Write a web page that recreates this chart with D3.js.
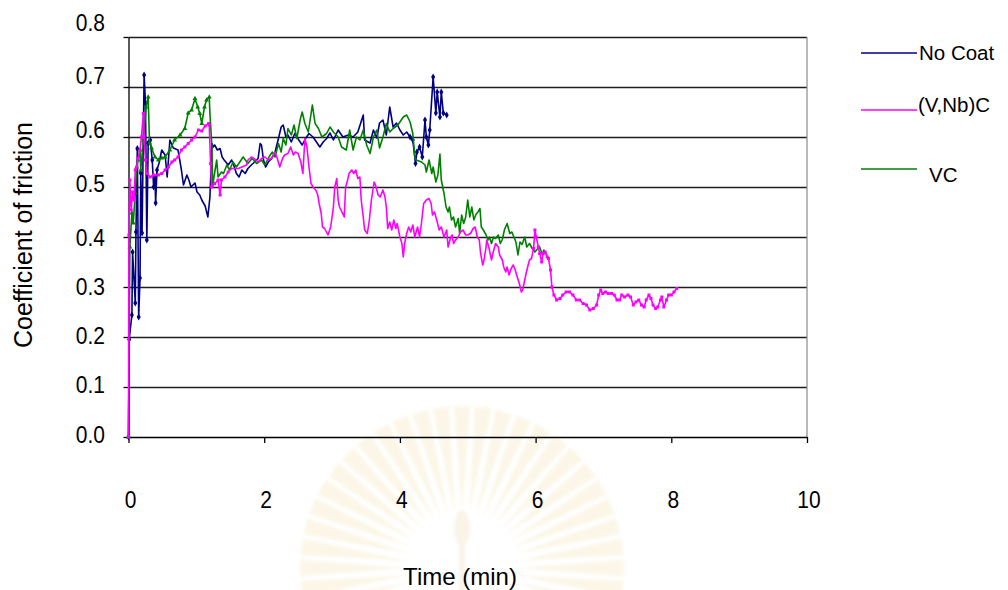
<!DOCTYPE html>
<html>
<head>
<meta charset="utf-8">
<script src="https://cdn.jsdelivr.net/npm/d3@7"></script>
<style>
  body { margin: 0; background: #fff; }
  svg { display: block; }
  text { font-family: "Liberation Sans", Arial, sans-serif; fill: #000; }
</style>
</head>
<body>
<svg id="chart" width="1008" height="590"></svg>
<script>
// ---- Friction test data: time (min) and coefficient of friction ----
const noCoatTime = [0, 0.01, 0.05, 0.06, 0.10, 0.11, 0.13, 0.15, 0.17, 0.18, 0.20, 0.23, 0.25, 0.27, 0.29, 0.32, 0.35, 0.37, 0.39, 0.40, 0.42, 0.45, 0.49, 0.54, 0.57, 0.61, 0.66, 0.73, 0.78, 0.81, 0.86, 0.89, 0.92, 0.98, 1.01, 1.05, 1.08, 1.13, 1.17, 1.20, 1.23, 1.25, 1.27, 1.31, 1.35, 1.38, 1.41, 1.47, 1.52, 1.56, 1.59, 1.63, 1.67, 1.72, 1.76, 1.81, 1.86, 1.91, 1.94, 1.96, 1.99, 2.02, 2.06, 2.11, 2.16, 2.21, 2.25, 2.28, 2.32, 2.35, 2.40, 2.45, 2.51, 2.56, 2.61, 2.66, 2.72, 2.77, 2.82, 2.87, 2.92, 2.97, 3.02, 3.09, 3.16, 3.24, 3.31, 3.38, 3.46, 3.48, 3.56, 3.61, 3.66, 3.70, 3.75, 3.80, 3.85, 3.90, 3.95, 4.00, 4.05, 4.10, 4.15, 4.19, 4.23, 4.25, 4.29, 4.33, 4.37, 4.39, 4.42, 4.44, 4.49, 4.53, 4.55, 4.59, 4.61, 4.64, 4.69];
const noCoatCof = [0, 0.195, 0.244, 0.37, 0.268, 0.41, 0.577, 0.24, 0.318, 0.528, 0.408, 0.724, 0.668, 0.394, 0.588, 0.594, 0.554, 0.50, 0.518, 0.468, 0.534, 0.548, 0.574, 0.564, 0.52, 0.594, 0.578, 0.574, 0.534, 0.504, 0.524, 0.514, 0.50, 0.508, 0.49, 0.484, 0.474, 0.462, 0.44, 0.48, 0.587, 0.58, 0.584, 0.574, 0.577, 0.56, 0.554, 0.544, 0.554, 0.54, 0.527, 0.52, 0.534, 0.527, 0.537, 0.544, 0.55, 0.557, 0.587, 0.584, 0.554, 0.54, 0.55, 0.557, 0.57, 0.597, 0.62, 0.624, 0.60, 0.604, 0.59, 0.607, 0.594, 0.584, 0.597, 0.607, 0.60, 0.59, 0.58, 0.59, 0.597, 0.608, 0.594, 0.614, 0.60, 0.604, 0.60, 0.61, 0.644, 0.594, 0.588, 0.614, 0.598, 0.628, 0.634, 0.604, 0.66, 0.62, 0.628, 0.614, 0.604, 0.61, 0.60, 0.594, 0.547, 0.57, 0.58, 0.56, 0.634, 0.60, 0.584, 0.614, 0.72, 0.648, 0.69, 0.64, 0.69, 0.648, 0.644];

const vnbcTime = [0, 0.005, 0.02, 0.04, 0.06, 0.08, 0.10, 0.12, 0.14, 0.17, 0.19, 0.22, 0.23, 0.25, 0.27, 0.32, 0.37, 0.44, 0.49, 0.54, 0.59, 0.64, 0.68, 0.73, 0.78, 0.83, 0.88, 0.93, 0.98, 1.03, 1.08, 1.13, 1.18, 1.19, 1.21, 1.225, 1.27, 1.32, 1.35, 1.37, 1.42, 1.47, 1.52, 1.57, 1.62, 1.67, 1.74, 1.76, 1.81, 1.86, 1.91, 1.96, 2.01, 2.06, 2.11, 2.16, 2.20, 2.23, 2.27, 2.30, 2.35, 2.39, 2.43, 2.46, 2.50, 2.54, 2.57, 2.60, 2.63, 2.66, 2.69, 2.72, 2.76, 2.79, 2.81, 2.84, 2.86, 2.89, 2.94, 2.98, 3.02, 3.04, 3.07, 3.09, 3.11, 3.18, 3.20, 3.23, 3.25, 3.29, 3.32, 3.35, 3.38, 3.41, 3.43, 3.46, 3.48, 3.52, 3.55, 3.58, 3.62, 3.64, 3.68, 3.71, 3.75, 3.78, 3.80, 3.82, 3.85, 3.88, 3.91, 3.94, 3.96, 4.00, 4.03, 4.05, 4.07, 4.10, 4.13, 4.16, 4.19, 4.22, 4.26, 4.29, 4.32, 4.35, 4.39, 4.43, 4.46, 4.48, 4.51, 4.55, 4.58, 4.61, 4.65, 4.69, 4.71, 4.75, 4.77, 4.79, 4.82, 4.86, 4.89, 4.93, 4.97, 5.00, 5.04, 5.08, 5.11, 5.14, 5.17, 5.19, 5.22, 5.24, 5.27, 5.28, 5.31, 5.35, 5.37, 5.41, 5.45, 5.47, 5.51, 5.53, 5.56, 5.58, 5.61, 5.64, 5.67, 5.70, 5.73, 5.76, 5.79, 5.81, 5.84, 5.86, 5.89, 5.91, 5.94, 5.97, 5.99, 6.01, 6.04, 6.06, 6.09, 6.11, 6.14, 6.17, 6.19, 6.22, 6.24, 6.27, 6.31, 6.36, 6.40, 6.45, 6.50, 6.55, 6.60, 6.65, 6.70, 6.75, 6.80, 6.85, 6.90, 6.93, 6.96, 6.99, 7.03, 7.07, 7.12, 7.16, 7.20, 7.24, 7.27, 7.31, 7.36, 7.40, 7.44, 7.48, 7.52, 7.56, 7.60, 7.63, 7.67, 7.70, 7.73, 7.77, 7.80, 7.84, 7.86, 7.89, 7.93, 7.96, 8.00, 8.04, 8.08];
const vnbcCof = [0, 0.404, 0.514, 0.454, 0.49, 0.474, 0.534, 0.54, 0.557, 0.574, 0.60, 0.647, 0.60, 0.554, 0.527, 0.52, 0.524, 0.524, 0.527, 0.534, 0.54, 0.55, 0.554, 0.56, 0.574, 0.58, 0.587, 0.594, 0.60, 0.614, 0.612, 0.622, 0.627, 0.624, 0.547, 0.50, 0.507, 0.514, 0.484, 0.514, 0.52, 0.53, 0.537, 0.537, 0.537, 0.54, 0.544, 0.554, 0.56, 0.556, 0.55, 0.557, 0.56, 0.554, 0.558, 0.57, 0.554, 0.54, 0.557, 0.564, 0.567, 0.58, 0.564, 0.57, 0.567, 0.55, 0.527, 0.597, 0.58, 0.54, 0.507, 0.50, 0.494, 0.484, 0.467, 0.447, 0.42, 0.417, 0.404, 0.42, 0.46, 0.50, 0.517, 0.474, 0.46, 0.44, 0.50, 0.514, 0.527, 0.534, 0.527, 0.534, 0.517, 0.52, 0.474, 0.44, 0.414, 0.407, 0.434, 0.474, 0.51, 0.504, 0.484, 0.48, 0.494, 0.48, 0.46, 0.417, 0.43, 0.414, 0.434, 0.417, 0.427, 0.40, 0.387, 0.36, 0.387, 0.407, 0.42, 0.41, 0.424, 0.40, 0.42, 0.40, 0.43, 0.467, 0.474, 0.477, 0.467, 0.444, 0.45, 0.43, 0.414, 0.42, 0.40, 0.414, 0.38, 0.40, 0.404, 0.387, 0.394, 0.40, 0.41, 0.414, 0.404, 0.404, 0.407, 0.417, 0.42, 0.40, 0.394, 0.367, 0.344, 0.354, 0.38, 0.394, 0.38, 0.354, 0.367, 0.387, 0.38, 0.364, 0.354, 0.34, 0.33, 0.34, 0.324, 0.337, 0.344, 0.334, 0.32, 0.307, 0.29, 0.294, 0.314, 0.327, 0.344, 0.354, 0.357, 0.377, 0.414, 0.40, 0.38, 0.367, 0.35, 0.367, 0.37, 0.36, 0.357, 0.334, 0.30, 0.284, 0.274, 0.277, 0.284, 0.29, 0.29, 0.284, 0.274, 0.274, 0.267, 0.264, 0.254, 0.257, 0.264, 0.284, 0.294, 0.287, 0.29, 0.287, 0.287, 0.284, 0.274, 0.274, 0.284, 0.28, 0.284, 0.28, 0.264, 0.27, 0.274, 0.264, 0.26, 0.274, 0.284, 0.277, 0.264, 0.257, 0.26, 0.274, 0.28, 0.26, 0.274, 0.284, 0.284, 0.29, 0.297];

const vcTime = [0, 0.02, 0.05, 0.07, 0.10, 0.12, 0.14, 0.17, 0.18, 0.22, 0.26, 0.29, 0.31, 0.34, 0.39, 0.44, 0.49, 0.54, 0.61, 0.68, 0.76, 0.83, 0.88, 0.93, 0.98, 1.02, 1.05, 1.08, 1.12, 1.15, 1.19, 1.20, 1.23, 1.24, 1.26, 1.30, 1.32, 1.37, 1.40, 1.45, 1.49, 1.54, 1.59, 1.64, 1.69, 1.76, 1.82, 1.89, 1.96, 2.01, 2.07, 2.12, 2.16, 2.21, 2.25, 2.28, 2.32, 2.35, 2.40, 2.44, 2.48, 2.53, 2.56, 2.60, 2.65, 2.71, 2.75, 2.80, 2.85, 2.92, 2.97, 3.02, 3.09, 3.14, 3.21, 3.26, 3.31, 3.36, 3.41, 3.46, 3.51, 3.56, 3.61, 3.66, 3.70, 3.75, 3.80, 3.85, 3.90, 3.97, 4.05, 4.10, 4.15, 4.19, 4.22, 4.24, 4.32, 4.37, 4.39, 4.43, 4.47, 4.49, 4.53, 4.56, 4.59, 4.61, 4.65, 4.68, 4.71, 4.73, 4.76, 4.79, 4.82, 4.86, 4.88, 4.91, 4.94, 4.97, 5.00, 5.03, 5.06, 5.09, 5.12, 5.15, 5.18, 5.20, 5.23, 5.27, 5.30, 5.32, 5.35, 5.38, 5.41, 5.45, 5.48, 5.51, 5.54, 5.58, 5.62, 5.65, 5.68, 5.71, 5.74, 5.77, 5.80, 5.84, 5.87, 5.91, 5.95, 5.99, 6.02, 6.06, 6.10, 6.12, 6.14, 6.17];
const vcCof = [0, 0.38, 0.448, 0.428, 0.488, 0.54, 0.554, 0.574, 0.534, 0.594, 0.66, 0.68, 0.588, 0.578, 0.56, 0.554, 0.558, 0.56, 0.574, 0.594, 0.604, 0.617, 0.648, 0.654, 0.677, 0.66, 0.647, 0.627, 0.66, 0.674, 0.68, 0.647, 0.58, 0.50, 0.52, 0.554, 0.52, 0.53, 0.527, 0.544, 0.534, 0.55, 0.54, 0.55, 0.56, 0.547, 0.557, 0.547, 0.554, 0.544, 0.56, 0.57, 0.56, 0.587, 0.57, 0.597, 0.584, 0.617, 0.604, 0.624, 0.597, 0.634, 0.65, 0.627, 0.61, 0.664, 0.627, 0.617, 0.60, 0.607, 0.62, 0.61, 0.60, 0.58, 0.574, 0.614, 0.574, 0.60, 0.594, 0.614, 0.584, 0.567, 0.60, 0.614, 0.578, 0.60, 0.627, 0.61, 0.617, 0.624, 0.64, 0.644, 0.63, 0.607, 0.56, 0.554, 0.55, 0.544, 0.53, 0.554, 0.527, 0.54, 0.51, 0.524, 0.566, 0.514, 0.487, 0.46, 0.45, 0.46, 0.434, 0.44, 0.42, 0.437, 0.407, 0.444, 0.427, 0.44, 0.474, 0.44, 0.46, 0.434, 0.445, 0.45, 0.457, 0.42, 0.414, 0.404, 0.394, 0.40, 0.387, 0.40, 0.397, 0.404, 0.387, 0.395, 0.414, 0.427, 0.407, 0.41, 0.40, 0.39, 0.364, 0.39, 0.385, 0.40, 0.38, 0.387, 0.377, 0.37, 0.375, 0.38, 0.364, 0.374, 0.37, 0.364];

const seriesNames = ["No Coat", "(V,Nb)C", "VC"];
const xTickValues = [0, 2, 4, 6, 8, 10];
const yTickValues = [0, 0.1, 0.2, 0.3, 0.4, 0.5, 0.6, 0.7, 0.8];
const xTitle = "Time (min)";
const yTitle = "Coefficient of friction";

// ---- Layout ----
const svg = d3.select("#chart");
const plot = { left: 128.5, right: 807, top: 37, bottom: 437 };

const x = d3.scaleLinear().domain([0, 10]).range([plot.left, plot.right]);
const y = d3.scaleLinear().domain([0, 0.8]).range([plot.bottom, plot.top]);
// tick-label placement for the value axis (labels sit a little above their grid lines near the top)
const yLabelPos = d3.scaleLinear().domain([0, 0.4, 0.8]).range([434, 237, 22]);

// soft blur for the background emblem
svg.append("defs").append("filter").attr("id", "soft")
  .append("feGaussianBlur").attr("stdDeviation", 1.6);

// faint emblem behind the lower part of the chart
const emblem = svg.append("g")
  .attr("transform", "translate(462,568)")
  .attr("opacity", 0.15)
  .attr("filter", "url(#soft)");
const rays = d3.range(0, 360, 7.5);
emblem.selectAll("path.ray")
  .data(rays)
  .join("path")
  .attr("class", "ray")
  .attr("d", a => {
    const r0 = 55, r1 = 162, w = 3;
    const p = d => [Math.cos(d * Math.PI / 180), Math.sin(d * Math.PI / 180)];
    const [c1, s1] = p(a - w), [c2, s2] = p(a + w), [c0, s0] = p(a);
    return `M${r0 * c0},${r0 * s0} L${r1 * c1},${r1 * s1} L${r1 * c2},${r1 * s2} Z`;
  })
  .attr("fill", "#e8c864");
emblem.append("circle").attr("r", 52).attr("fill", "#fff");
emblem.append("ellipse").attr("cx", 0).attr("cy", -40).attr("rx", 8).attr("ry", 18)
  .attr("fill", "#dcb85a");
emblem.append("rect").attr("x", -3).attr("y", -24).attr("width", 6).attr("height", 60)
  .attr("fill", "#dcb85a");

// horizontal grid lines
svg.append("g")
  .selectAll("line")
  .data(yTickValues.filter(v => v > 0))
  .join("line")
  .attr("x1", plot.left).attr("x2", plot.right)
  .attr("y1", d => Math.round(y(d)) + 0.5).attr("y2", d => Math.round(y(d)) + 0.5)
  .attr("stroke", "#1e1e1e").attr("stroke-width", 1.4);

// right border of the plot area
svg.append("line")
  .attr("x1", plot.right).attr("x2", plot.right)
  .attr("y1", plot.top).attr("y2", plot.bottom)
  .attr("stroke", "#8a8a8a").attr("stroke-width", 1.2);

// value axis (line + ticks)
const yAxis = svg.append("g")
  .attr("transform", `translate(${plot.left},0)`)
  .call(d3.axisLeft(y).tickValues(yTickValues).tickSize(5).tickSizeOuter(0).tickFormat(""));
yAxis.selectAll("path, line").attr("stroke", "#000").attr("stroke-width", 1.3);

// value axis labels (slightly tall lettering)
svg.append("g")
  .selectAll("text")
  .data(yTickValues)
  .join("text")
  .attr("transform", d => `translate(105,${yLabelPos(d)}) scale(1,1.15)`)
  .attr("dy", "0.36em")
  .attr("text-anchor", "end")
  .attr("font-size", 21)
  .text(d3.format(".1f"));

// time axis (line + ticks)
const xAxis = svg.append("g")
  .attr("transform", `translate(0,${plot.bottom})`)
  .call(d3.axisBottom(x).tickValues(xTickValues).tickSize(6).tickSizeOuter(0).tickFormat(""));
xAxis.selectAll("path, line").attr("stroke", "#000").attr("stroke-width", 1.3);

// time axis labels, set well below the axis
svg.append("g")
  .selectAll("text")
  .data(xTickValues)
  .join("text")
  .attr("transform", d => `translate(${x(d) + 2},499) scale(1,1.15)`)
  .attr("dy", "0.36em")
  .attr("text-anchor", "middle")
  .attr("font-size", 21)
  .text(d => d);

// ---- Series ----
const series = [
  { name: seriesNames[0], time: noCoatTime, cof: noCoatCof, color: "#000080",
    symbol: d3.symbolDiamond, size: 14, marked: t => t < 0.45 || t > 4.1 },
  { name: seriesNames[1], time: vnbcTime, cof: vnbcCof, color: "#ff00ff",
    symbol: d3.symbolSquare, size: 9, marked: t => t < 1.5 || t > 5.95 },
  { name: seriesNames[2], time: vcTime, cof: vcCof, color: "#008000",
    symbol: d3.symbolTriangle, size: 10, marked: t => t < 1.2 }
];

const line = d3.line().x(d => x(d[0])).y(d => y(d[1]));

// draw in back-to-front order: No Coat, VC, (V,Nb)C
[series[0], series[2], series[1]].forEach(s => {
  const pts = s.time.map((t, i) => [t, s.cof[i]]);
  const g = svg.append("g");
  g.append("path")
    .datum(pts)
    .attr("d", line)
    .attr("fill", "none")
    .attr("stroke", s.color)
    .attr("stroke-width", 1.6)
    .attr("stroke-linejoin", "round");
  g.selectAll("path.mk")
    .data(pts.filter(p => s.marked(p[0])))
    .join("path")
    .attr("class", "mk")
    .attr("transform", p => `translate(${x(p[0])},${y(p[1])})`)
    .attr("d", d3.symbol().type(s.symbol).size(s.size))
    .attr("fill", s.color);
});

// ---- Legend ----
const legendRows = [
  { y: 53, textX: 919, textY: 60 },
  { y: 110, textX: 918, textY: 112 },
  { y: 169, textX: 929, textY: 182 }
];
const legend = svg.append("g");
series.forEach((s, i) => {
  const r = legendRows[i];
  legend.append("line")
    .attr("x1", 861).attr("x2", 917)
    .attr("y1", r.y).attr("y2", r.y)
    .attr("stroke", s.color).attr("stroke-width", 1.5);
  legend.append("text")
    .attr("x", r.textX).attr("y", r.textY)
    .attr("font-size", 20.5)
    .text(s.name);
});

// ---- Axis titles ----
svg.append("text")
  .attr("x", 460).attr("y", 585)
  .attr("text-anchor", "middle")
  .attr("font-size", 24)
  .text(xTitle);

svg.append("text")
  .attr("transform", "translate(32,235) rotate(-90)")
  .attr("text-anchor", "middle")
  .attr("font-size", 25)
  .text(yTitle);
</script>
</body>
</html>
